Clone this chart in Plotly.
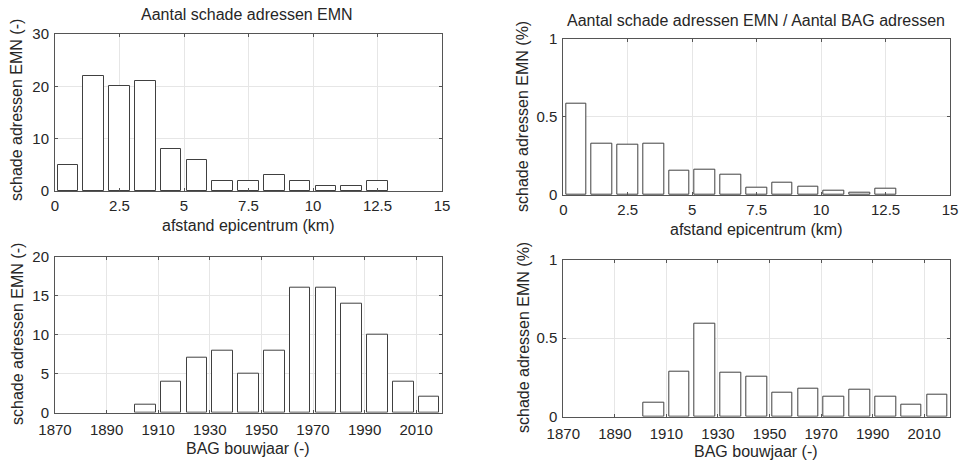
import plotly.graph_objects as go

# ---- data ----
dist_centers = [0.5, 1.5, 2.5, 3.5, 4.5, 5.5, 6.5, 7.5, 8.5, 9.5, 10.5, 11.5, 12.5, 13.5, 14.5]
dist_counts = [5, 22, 20, 21, 8, 6, 2, 2, 3, 2, 1, 1, 2, 0, 0]
dist_pct = [0.586, 0.326, 0.32, 0.33, 0.158, 0.162, 0.132, 0.045, 0.079, 0.053, 0.030, 0.015, 0.04, 0, 0]

year_centers = [1875, 1885, 1895, 1905, 1915, 1925, 1935, 1945, 1955, 1965, 1975, 1985, 1995, 2005, 2015]
year_counts = [0, 0, 0, 1, 4, 7, 8, 5, 8, 16, 16, 14, 10, 4, 2]
year_pct = [0, 0, 0, 0.089, 0.287, 0.594, 0.28, 0.253, 0.155, 0.18, 0.13, 0.17, 0.125, 0.079, 0.138]

dist_ticks = [0, 2.5, 5, 7.5, 10, 12.5, 15]
dist_ticklabels = ["0", "2.5", "5", "7.5", "10", "12.5", "15"]
year_ticks = [1870, 1890, 1910, 1930, 1950, 1970, 1990, 2010]

title_tl = "Aantal schade adressen EMN"
title_tr = "Aantal schade adressen EMN / Aantal BAG adressen"
xlab_dist = "afstand epicentrum (km)"
xlab_year = "BAG bouwjaar (-)"
ylab_cnt = "schade adressen EMN (-)"
ylab_pct = "schade adressen EMN (%)"

FONT = "Liberation Sans, Arial, sans-serif"
TXT = "#262626"
EDGE = "#404040"
TICK_SIZE = 15
LAB_SIZE = 16
TITLE_SIZE = 16

W, H = 960, 461

fig = go.Figure()

def add_bars(x, y, width, xa, ya):
    # empty bins are not drawn (no visible bar in the histogram)
    xs = [a for a, b in zip(x, y) if b > 0]
    ys = [b for b in y if b > 0]
    fig.add_trace(go.Bar(
        x=xs, y=ys, width=width, xaxis=xa, yaxis=ya,
        marker=dict(color="white", line=dict(color=EDGE, width=1)),
        showlegend=False, hoverinfo="x+y",
    ))

add_bars(dist_centers, dist_counts, 0.8, "x", "y")
add_bars(dist_centers, dist_pct, 0.8, "x2", "y2")
add_bars(year_centers, year_counts, 8, "x3", "y3")
add_bars(year_centers, year_pct, 8, "x4", "y4")

axis_common = dict(
    showline=True, linecolor="#555555", linewidth=1, mirror="allticks",
    ticks="inside", ticklen=3, tickcolor="#555555",
    showgrid=True, gridcolor="#e6e6e6", gridwidth=1, zeroline=False,
    automargin=False,
    tickfont=dict(family=FONT, size=TICK_SIZE, color=TXT),
)

def xaxis(domain, anchor, rng, tickvals, ticktext, tls):
    d = dict(axis_common)
    d.update(domain=domain, anchor=anchor, range=rng, tickmode="array",
             tickvals=tickvals, ticktext=ticktext, ticklabelstandoff=tls)
    return d

def yaxis(domain, anchor, rng, dtick):
    d = dict(axis_common)
    d.update(domain=domain, anchor=anchor, range=rng, dtick=dtick, tick0=0,
             ticklabelstandoff=2)
    return d

# plot-area pixel boxes: (left, right, top, bottom)
box_tl = (55, 442, 34, 191)
box_tr = (563.3, 950, 38.7, 195)
box_bl = (55, 442, 256.7, 412.7)
box_br = (563.3, 950, 259.7, 416.7)

def xd(b):
    return [b[0] / W, b[1] / W]

def yd(b):
    return [1 - b[3] / H, 1 - b[2] / H]

def ann(text, px, py, size, angle=0):
    return dict(text=text, x=px / W, y=1 - py / H, xref="paper", yref="paper",
                showarrow=False, xanchor="center", yanchor="middle", textangle=angle,
                font=dict(family=FONT, size=size, color=TXT))

fig.update_layout(
    width=W, height=H,
    margin=dict(l=0, r=0, t=0, b=0),
    paper_bgcolor="white", plot_bgcolor="white",
    bargap=0,
    xaxis=xaxis(xd(box_tl), "y", [0, 15], dist_ticks, dist_ticklabels, 1),
    yaxis=yaxis(yd(box_tl), "x", [0, 30], 10),
    xaxis2=xaxis(xd(box_tr), "y2", [0, 15], dist_ticks, dist_ticklabels, 1),
    yaxis2=yaxis(yd(box_tr), "x2", [0, 1], 0.5),
    xaxis3=xaxis(xd(box_bl), "y3", [1870, 2020], year_ticks, [str(v) for v in year_ticks], 3),
    yaxis3=yaxis(yd(box_bl), "x3", [0, 20], 5),
    xaxis4=xaxis(xd(box_br), "y4", [1870, 2020], year_ticks, [str(v) for v in year_ticks], 3),
    yaxis4=yaxis(yd(box_br), "x4", [0, 1], 0.5),
    annotations=[
        ann(title_tl, 247, 15, TITLE_SIZE),
        ann(title_tr, 756, 21, TITLE_SIZE),
        ann(xlab_dist, 248, 225, LAB_SIZE),
        ann(xlab_dist, 756, 229, LAB_SIZE),
        ann(xlab_year, 248, 448, LAB_SIZE),
        ann(xlab_year, 756, 451, LAB_SIZE),
        ann(ylab_cnt, 17, 110, LAB_SIZE, -90),
        ann(ylab_pct, 523, 117, LAB_SIZE, -90),
        ann(ylab_cnt, 17, 334, LAB_SIZE, -90),
        ann(ylab_pct, 523, 338, LAB_SIZE, -90),
    ],
)

fig.write_html("out.html")
